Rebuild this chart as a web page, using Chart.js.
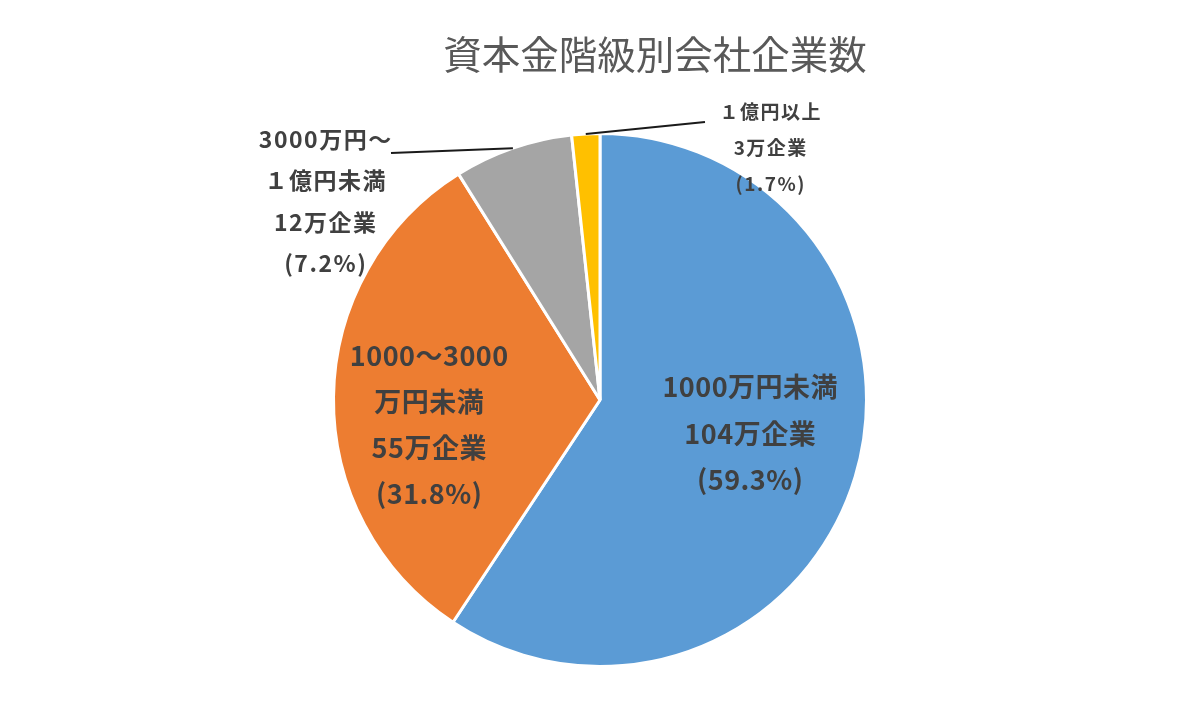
<!DOCTYPE html>
<html>
<head>
<meta charset="utf-8">
<script src="https://cdn.jsdelivr.net/npm/chart.js@4/dist/chart.umd.min.js"></script>
<style>
  html, body { margin: 0; padding: 0; background: #fff; }
  canvas { display: block; }
</style>
</head>
<body>
<canvas id="pieChart" width="1179" height="708"></canvas>
<script>
/* ========= DATA ========= */
const chartTitle = "資本金階級別会社企業数";
const categories = ["1000万円未満", "1000～3000万円未満", "3000万円～1億円未満", "1億円以上"];
const categoryLines = [
  ["1000万円未満"],
  ["1000～3000", "万円未満"],
  ["3000万円～", "１億円未満"],
  ["１億円以上"]
];
const companies = [104, 55, 12, 3];        // 万企業
const shares = [59.3, 31.8, 7.2, 1.7];     // %
const sliceColors = ["#5B9BD5", "#ED7D31", "#A5A5A5", "#FFC000"];

/* ========= LABEL LAYOUT (first line offset from pie centre) ========= */
const labelStyle = [
  { dx: 150, dy: -13, size: 27, gap: 0.5, lineH: 46.5 },
  { dx: -171, dy: -44, size: 27, gap: 0.5, lineH: 46 },
  { dx: -275, dy: -261, size: 23, gap: 1.5, lineH: 41.5, leader: { x: -209, y: -247 } },
  { dx: 170, dy: -288, size: 19, gap: 1.5, lineH: 36, leader: { x: 105, y: -278 } }
];

function labelText(i) {
  return [...categoryLines[i], companies[i] + "万企業", "(" + shares[i].toFixed(1) + "%)"];
}

/* ========= PLUGINS ========= */
const titlePlugin = {
  id: "titleText",
  afterDraw(chart) {
    const ctx = chart.ctx;
    ctx.save();
    ctx.font = "38.5px 'Noto Sans CJK JP'";
    ctx.fillStyle = "#595959";
    ctx.textAlign = "center";
    ctx.textBaseline = "middle";
    ctx.fillText(chartTitle, 655, 54);
    ctx.restore();
  }
};

const sliceLabels = {
  id: "sliceLabels",
  afterDatasetsDraw(chart) {
    const ctx = chart.ctx;
    const arcs = chart.getDatasetMeta(0).data;
    ctx.save();
    arcs.forEach((arc, i) => {
      const st = labelStyle[i];
      const cx = arc.x, cy = arc.y;
      const lines = labelText(i);

      if (st.leader) {
        const mid = (arc.startAngle + arc.endAngle) / 2;
        ctx.beginPath();
        ctx.moveTo(cx + st.leader.x, cy + st.leader.y);
        ctx.lineTo(cx + Math.cos(mid) * arc.outerRadius, cy + Math.sin(mid) * arc.outerRadius);
        ctx.strokeStyle = "#1a1a1a";
        ctx.lineWidth = 2;
        ctx.stroke();
      }

      ctx.font = "bold " + st.size + "px 'Noto Sans CJK JP'";
      ctx.letterSpacing = st.gap + "px";
      ctx.fillStyle = "#404040";
      ctx.textAlign = "center";
      ctx.textBaseline = "middle";
      lines.forEach((t, k) => ctx.fillText(t, cx + st.dx + st.gap / 2, cy + st.dy + k * st.lineH));
    });
    ctx.restore();
  }
};

/* ========= CHART ========= */
new Chart(document.getElementById("pieChart"), {
  type: "pie",
  data: {
    labels: categories,
    datasets: [{
      data: shares,
      backgroundColor: sliceColors,
      borderColor: "#ffffff",
      borderWidth: 3
    }]
  },
  options: {
    responsive: false,
    animation: false,
    layout: { padding: { top: 132, bottom: 40, left: 332, right: 311 } },
    plugins: {
      legend: { display: false },
      title: { display: false },
      tooltip: { enabled: false }
    }
  },
  plugins: [titlePlugin, sliceLabels]
});
</script>
</body>
</html>
